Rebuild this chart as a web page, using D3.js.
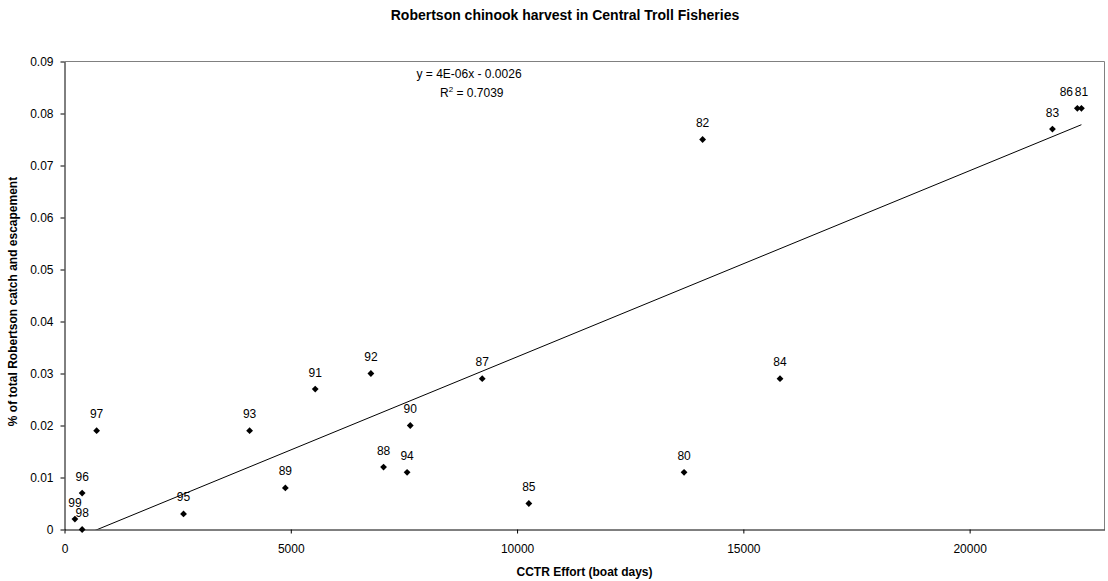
<!DOCTYPE html>
<html><head><meta charset="utf-8">
<script src="https://cdn.jsdelivr.net/npm/d3@7"></script>
<style>
body{margin:0;background:#fff}
text{font-family:"Liberation Sans",Arial,sans-serif;fill:#000}
</style>
</head><body>
<svg id="chart" width="1108" height="581"></svg>
<script>
// ---- data ----
const years  = ["80","81","82","83","84","85","86","87","88","89","90","91","92","93","94","95","96","97","98","99"];
const effort = [13690,22470,14100,21830,15810,10260,22380,9230,7050,4880,7640,5540,6770,4090,7570,2630,390,710,390,230];
const share  = [0.011,0.081,0.075,0.077,0.029,0.005,0.081,0.029,0.012,0.008,0.020,0.027,0.030,0.019,0.011,0.003,0.007,0.019,0.000,0.002];
const xTicks = [0,5000,10000,15000,20000];
const yTicks = [0,0.01,0.02,0.03,0.04,0.05,0.06,0.07,0.08,0.09];
const xMax = 22980, yMax = 0.09;
// trendline as drawn in the reference (y = 4E-06x - 0.0026, unrounded slope)
const trendSlope = 3.58e-6, trendIntercept = -0.0026;
const titleText = "Robertson chinook harvest in Central Troll Fisheries";
const xTitle = "CCTR Effort (boat days)";
const yTitle = "% of total Robertson catch and escapement";
const eqText = "y = 4E-06x - 0.0026";
const r2Text = " = 0.7039";

// ---- layout ----
const L = 64.5, R = 1104.5, T = 61.5, B = 529.5;
const labelShift = {"86": -11};

const svg = d3.select("#chart");
const x = d3.scaleLinear().domain([0, xMax]).range([L, R]);
const y = d3.scaleLinear().domain([0, yMax]).range([B, T]);

const data = years.map((yr, i) => ({yr, ex: effort[i], v: share[i]}));

// plot border (top/right grey)
svg.append("path")
  .attr("d", `M${L},${T}H${R}V${B}`)
  .attr("fill", "none").attr("stroke", "#808080").attr("stroke-width", 1);

// axes
const yAxis = d3.axisLeft(y).tickValues(yTicks).tickSize(4).tickSizeOuter(0).tickPadding(7)
  .tickFormat(d => d === 0 ? "0" : d3.format(".2f")(d));
const xAxis = d3.axisBottom(x).tickValues(xTicks).tickSize(4).tickSizeOuter(0).tickPadding(11)
  .tickFormat(d3.format("d"));

const gy = svg.append("g").attr("transform", `translate(${L},0)`).call(yAxis);
const gx = svg.append("g").attr("transform", `translate(0,${B})`).call(xAxis);
[gx, gy].forEach(g => {
  g.selectAll("path,line").attr("stroke", "#000");
  g.selectAll("text").attr("font-size", 12).attr("font-family", "Liberation Sans, Arial, sans-serif").attr("fill", "#000");
});

// trendline, spanning the data's x range, clipped to the plot
const x0 = d3.min(effort), x1 = d3.max(effort);
svg.append("clipPath").attr("id", "clip").append("rect")
  .attr("x", L).attr("y", T).attr("width", R - L).attr("height", B - T);
svg.append("line")
  .attr("clip-path", "url(#clip)")
  .attr("x1", x(x0)).attr("y1", y(trendSlope * x0 + trendIntercept))
  .attr("x2", x(x1)).attr("y2", y(trendSlope * x1 + trendIntercept))
  .attr("stroke", "#000").attr("stroke-width", 1);

// points (diamonds)
const s = 3.4;
svg.append("g").selectAll("path").data(data).join("path")
  .attr("d", d => { const cx = x(d.ex), cy = y(d.v); return `M${cx},${cy - s}L${cx + s},${cy}L${cx},${cy + s}L${cx - s},${cy}Z`; })
  .attr("fill", "#000");

// point labels
svg.append("g").selectAll("text").data(data).join("text")
  .attr("x", d => x(d.ex) + (labelShift[d.yr] || 0))
  .attr("y", d => y(d.v) - 12.5)
  .attr("text-anchor", "middle").attr("font-size", 12)
  .text(d => d.yr);

// equation
svg.append("text").attr("x", 416.5).attr("y", 78).attr("font-size", 12).text(eqText);
const r2 = svg.append("text").attr("x", 440).attr("y", 96.5).attr("font-size", 12);
r2.append("tspan").text("R");
r2.append("tspan").attr("font-size", 8).attr("dy", -5).text("2");
r2.append("tspan").attr("dy", 5).text(r2Text);

// titles
svg.append("text").attr("x", 565).attr("y", 20).attr("text-anchor", "middle")
  .attr("font-size", 14).attr("font-weight", "bold").text(titleText);
svg.append("text").attr("x", (L + R) / 2).attr("y", 575.5).attr("text-anchor", "middle")
  .attr("font-size", 12).attr("font-weight", "bold").text(xTitle);
svg.append("text").attr("transform", `translate(17,${301.5}) rotate(-90)`).attr("text-anchor", "middle")
  .attr("font-size", 12).attr("font-weight", "bold").text(yTitle);
</script>
</body></html>
